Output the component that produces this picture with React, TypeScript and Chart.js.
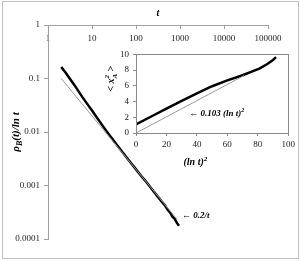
import React, { useEffect, useRef } from 'react';
import { Chart, registerables } from 'chart.js';

Chart.register(...registerables);

const SERIF = '"Liberation Serif", "Times New Roman", serif';

// main chart: rho_B(t)/ln t versus t (log-log)
const tickT = [1, 10, 100, 1000, 10000, 100000];
const tickRho = [0.0001, 0.001, 0.01, 0.1, 1];
const mainT = [2, 2.5, 3, 4, 5, 6, 8, 10, 13, 16, 20, 25, 30, 40, 50, 65, 80, 100, 130, 160, 200, 250, 300, 380, 450, 520, 600, 680, 760, 850, 950];
const mainRho = [0.164, 0.1296, 0.1047, 0.075, 0.0568, 0.0453, 0.0325, 0.0252, 0.01846, 0.0145, 0.0112, 0.00872, 0.00713, 0.00525, 0.00412, 0.00314, 0.002525, 0.002, 0.00152, 0.00125, 0.00099, 0.000784, 0.000647, 0.000505, 0.000431, 0.000354, 0.00031, 0.000259, 0.000237, 0.0002, 0.000177];
const fitT = [2, 850];
const fitRho = [0.1, 0.000235];

// inset: <x_A^2> versus (ln t)^2
const insetTickX = [0, 20, 40, 60, 80, 100];
const insetTickY = [0, 2, 4, 6, 8, 10];
const insetX = [0, 10, 20, 30, 40, 50, 60, 70, 76, 81, 86, 90, 92];
const insetY = [1.1, 2.1, 3.1, 4.1, 5.05, 5.95, 6.7, 7.35, 7.8, 8.2, 8.75, 9.3, 9.65];
const insetFitX = [0, 71];
const insetFitY = [0, 7.31];

type Seg = { t: string; size: number; dy?: number; bold?: boolean; italic?: boolean; stack?: boolean };

function fontOf(s: Seg) {
  return `${s.italic ? 'italic ' : ''}${s.bold ? 'bold ' : ''}${s.size}px ${SERIF}`;
}

function drawRich(ctx: CanvasRenderingContext2D, segs: Seg[], x: number, y: number, rot: number, align: 'left' | 'center') {
  ctx.save();
  ctx.translate(x, y);
  ctx.rotate(rot);
  ctx.textBaseline = 'alphabetic';
  ctx.textAlign = 'left';
  ctx.fillStyle = '#000';
  const widths = segs.map((s) => {
    ctx.font = fontOf(s);
    return ctx.measureText(s.t).width;
  });
  let total = 0;
  let pending = 0;
  segs.forEach((s, i) => {
    if (s.stack) {
      pending = widths[i];
    } else {
      total += Math.max(widths[i], pending);
      pending = 0;
    }
  });
  let cx = align === 'center' ? -total / 2 : 0;
  pending = 0;
  segs.forEach((s, i) => {
    ctx.font = fontOf(s);
    ctx.fillText(s.t, cx, s.dy || 0);
    if (s.stack) {
      pending = widths[i];
    } else {
      cx += Math.max(widths[i], pending);
      pending = 0;
    }
  });
  ctx.restore();
}

const fixedTicks = (vals: number[]) => (scale: any) => {
  scale.ticks = vals.map((v) => ({ value: v }));
};

export default function App() {
  const mainRef = useRef<HTMLCanvasElement>(null);
  const insetRef = useRef<HTMLCanvasElement>(null);

  useEffect(() => {
    const tickFont = { family: SERIF, size: 9 };

    const mainPlugin = {
      id: 'mainDecor',
      beforeDraw(chart: any) {
        const ctx = chart.ctx as CanvasRenderingContext2D;
        ctx.save();
        ctx.fillStyle = '#fff';
        ctx.fillRect(0, 0, chart.width, chart.height);
        ctx.strokeStyle = '#c0c0c0';
        ctx.lineWidth = 1;
        ctx.strokeRect(2.5, 1.5, 296, 257);
        ctx.restore();
      },
      afterDraw(chart: any) {
        const ctx = chart.ctx as CanvasRenderingContext2D;
        drawRich(
          ctx,
          [
            { t: 'ρ', size: 11, bold: true, italic: true },
            { t: 'B', size: 8, bold: true, italic: true, dy: 3 },
            { t: '(t)/ln t', size: 11, bold: true, italic: true },
          ],
          19,
          chart.chartArea.top + (chart.chartArea.bottom - chart.chartArea.top) / 2,
          -Math.PI / 2,
          'center'
        );
        const xs = chart.scales.x;
        const ys = chart.scales.y;
        drawRich(
          ctx,
          [{ t: '← 0.2/t', size: 9, bold: true, italic: true }],
          xs.getPixelForValue(1110),
          ys.getPixelForValue(0.000281) + 3,
          0,
          'left'
        );
      },
    };

    const main = new Chart(mainRef.current!, {
      type: 'scatter',
      data: {
        datasets: [
          {
            data: fitT.map((t, i) => ({ x: t, y: fitRho[i] })),
            showLine: true,
            borderColor: '#9a9a9a',
            borderWidth: 1,
            pointRadius: 0,
          },
          {
            data: mainT.map((t, i) => ({ x: t, y: mainRho[i] })),
            showLine: true,
            borderColor: '#000',
            borderWidth: 2.5,
            pointRadius: 0,
          },
        ],
      },
      options: {
        animation: false,
        responsive: false,
        events: [],
        layout: { padding: { left: 0, top: 0, right: 33, bottom: 22 } },
        plugins: { legend: { display: false }, tooltip: { enabled: false } },
        scales: {
          x: {
            type: 'logarithmic',
            position: 'top',
            min: 1,
            max: 100000,
            afterBuildTicks: fixedTicks(tickT),
            afterFit: (s: any) => {
              s.height = 25;
            },
            grid: { drawOnChartArea: false, drawTicks: true, tickLength: -4, color: '#a0a0a0' },
            border: { color: '#a0a0a0', width: 1 },
            ticks: {
              mirror: true,
              padding: 8,
              color: '#222',
              font: tickFont,
              autoSkip: false,
              maxRotation: 0,
              callback: (v: any) => String(v),
            },
            title: {
              display: true,
              text: 't',
              color: '#000',
              font: { family: SERIF, size: 10, weight: 'bold', style: 'italic' },
              padding: { top: 7, bottom: 0 },
            },
          },
          y: {
            type: 'logarithmic',
            position: 'left',
            min: 0.0001,
            max: 1,
            afterBuildTicks: fixedTicks(tickRho),
            afterFit: (s: any) => {
              s.width = 48;
            },
            grid: { drawOnChartArea: false, drawTicks: true, tickLength: 4, color: '#a0a0a0' },
            border: { color: '#a0a0a0', width: 1 },
            ticks: {
              padding: 4,
              color: '#222',
              font: tickFont,
              autoSkip: false,
              callback: (v: any) => String(v),
            },
          },
        },
      },
      plugins: [mainPlugin],
    } as any);

    const insetPlugin = {
      id: 'insetDecor',
      beforeDraw(chart: any) {
        const ctx = chart.ctx as CanvasRenderingContext2D;
        const a = chart.chartArea;
        ctx.save();
        ctx.fillStyle = '#fff';
        ctx.fillRect(a.left, a.top, a.right - a.left, a.bottom - a.top);
        ctx.restore();
      },
      afterDraw(chart: any) {
        const ctx = chart.ctx as CanvasRenderingContext2D;
        const a = chart.chartArea;
        ctx.save();
        ctx.strokeStyle = '#8a8a8a';
        ctx.lineWidth = 1;
        ctx.strokeRect(Math.round(a.left) + 0.5, Math.round(a.top) + 0.5, Math.round(a.right - a.left), Math.round(a.bottom - a.top));
        ctx.restore();
        const xs = chart.scales.x;
        const ys = chart.scales.y;
        drawRich(
          ctx,
          [
            { t: '← 0.103 (ln t)', size: 9, bold: true, italic: true },
            { t: '2', size: 6, bold: true, italic: true, dy: -4 },
          ],
          xs.getPixelForValue(35),
          ys.getPixelForValue(2.6) + 3,
          0,
          'left'
        );
        drawRich(
          ctx,
          [
            { t: '(ln t)', size: 10, bold: true, italic: true },
            { t: '2', size: 7, bold: true, italic: true, dy: -4 },
          ],
          xs.getPixelForValue(39),
          a.bottom + 32,
          0,
          'center'
        );
        drawRich(
          ctx,
          [
            { t: '< ', size: 10, bold: true },
            { t: 'x', size: 10, bold: true, italic: true },
            { t: 'A', size: 7, bold: true, italic: true, dy: 3, stack: true },
            { t: '2', size: 7, bold: true, italic: true, dy: -5 },
            { t: ' >', size: 10, bold: true },
          ],
          a.left - 22,
          ys.getPixelForValue(6.9),
          -Math.PI / 2,
          'center'
        );
      },
    };

    const inset = new Chart(insetRef.current!, {
      type: 'scatter',
      data: {
        datasets: [
          {
            data: insetFitX.map((x, i) => ({ x, y: insetFitY[i] })),
            showLine: true,
            borderColor: '#9a9a9a',
            borderWidth: 1,
            pointRadius: 0,
          },
          {
            data: insetX.map((x, i) => ({ x, y: insetY[i] })),
            showLine: true,
            borderColor: '#000',
            borderWidth: 2.5,
            pointRadius: 0,
          },
        ],
      },
      options: {
        animation: false,
        responsive: false,
        events: [],
        layout: { padding: { left: 0, top: 8, right: 8, bottom: 0 } },
        plugins: { legend: { display: false }, tooltip: { enabled: false } },
        scales: {
          x: {
            type: 'linear',
            position: 'bottom',
            min: 0,
            max: 100,
            afterBuildTicks: fixedTicks(insetTickX),
            afterFit: (s: any) => {
              s.height = 39;
            },
            grid: { drawOnChartArea: false, drawTicks: true, tickLength: 3, color: '#8a8a8a' },
            border: { color: '#8a8a8a', width: 1 },
            ticks: { padding: 3, color: '#222', font: tickFont, autoSkip: false, maxRotation: 0 },
          },
          y: {
            type: 'linear',
            position: 'left',
            min: 0,
            max: 10,
            afterBuildTicks: fixedTicks(insetTickY),
            afterFit: (s: any) => {
              s.width = 41;
            },
            grid: { drawOnChartArea: false, drawTicks: true, tickLength: 3, color: '#8a8a8a' },
            border: { color: '#8a8a8a', width: 1 },
            ticks: { padding: 4, color: '#222', font: tickFont, autoSkip: false },
          },
        },
      },
      plugins: [insetPlugin],
    } as any);

    return () => {
      main.destroy();
      inset.destroy();
    };
  }, []);

  return (
    <div style={{ position: 'absolute', left: 0, top: 0, width: 301, height: 261, background: '#fff' }}>
      <canvas
        ref={mainRef}
        width={301}
        height={261}
        style={{ position: 'absolute', left: 0, top: 0, width: 301, height: 261 }}
      />
      <canvas
        ref={insetRef}
        width={203}
        height={127}
        style={{ position: 'absolute', left: 95, top: 45, width: 203, height: 127 }}
      />
    </div>
  );
}
